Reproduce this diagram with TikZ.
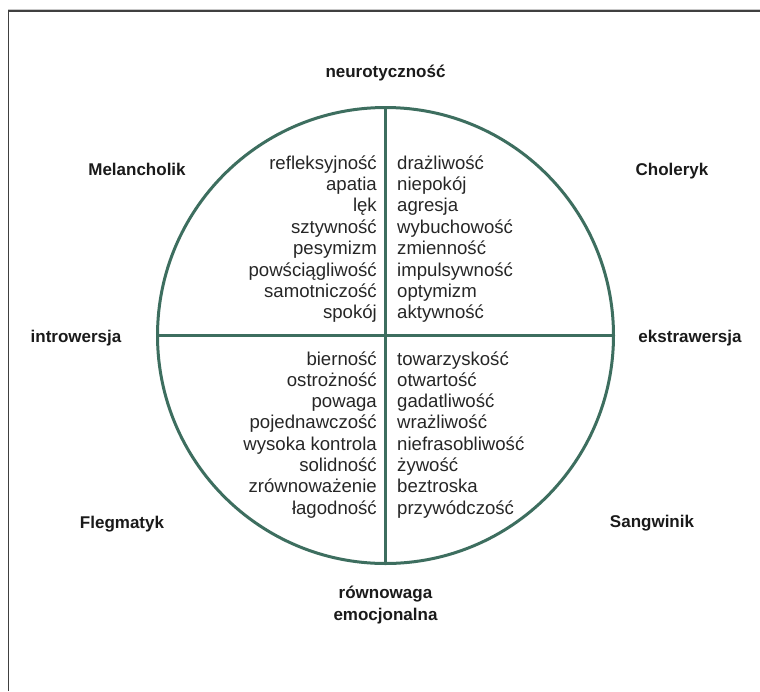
\documentclass[tikz,border=0pt]{standalone}
\usepackage{fontspec}
\setmainfont{Liberation Sans}
\definecolor{circgreen}{HTML}{3D6E5F}
\definecolor{bodytext}{HTML}{262626}
\definecolor{labeltext}{HTML}{1A1A1A}
\begin{document}
\begin{tikzpicture}[x=1pt,y=-1pt,
  word/.style={inner sep=0pt,font=\fontsize{18.6}{21}\selectfont,text=bodytext},
  wl/.style={word,anchor=base east},
  wr/.style={word,anchor=base west},
  lbl/.style={inner sep=0pt,font=\fontsize{17}{21.5}\selectfont\bfseries,text=labeltext,anchor=base,align=center},
  axis/.style={draw=circgreen,line width=3pt}]
\useasboundingbox (0,0) rectangle (760,691);
% frame
\draw[color=black!22,line width=1pt] (8,9.3) -- (760,9.3);
\draw[color=black!75,line width=1.6pt] (8.6,691) -- (8.6,10.9) -- (760,10.9);
% circle
\node[circle,draw=circgreen,line width=3pt,minimum size=456pt,inner sep=0pt] (c) at (385.5,335.5) {};
\draw[axis] (c.north) -- (c.south);
\draw[axis] (c.west) -- (c.east);
% top-left
\foreach \t [count=\i] in {refleksyjność,apatia,lęk,sztywność,pesymizm,powściągliwość,samotniczość,spokój}
  \node[wl] (tl\i) at (377,{169+(\i-1)*21.4}) {\t};
% top-right
\foreach \t [count=\i] in {drażliwość,niepokój,agresja,wybuchowość,zmienność,impulsywność,optymizm,aktywność}
  \node[wr] (tr\i) at (397,{169+(\i-1)*21.4}) {\t};
% bottom-left
\foreach \t [count=\i] in {bierność,ostrożność,powaga,pojednawczość,wysoka kontrola,solidność,zrównoważenie,łagodność}
  \node[wl] (bl\i) at (377,{365+(\i-1)*21.3}) {\t};
% bottom-right
\foreach \t [count=\i] in {towarzyskość,otwartość,gadatliwość,wrażliwość,niefrasobliwość,żywość,beztroska,przywódczość}
  \node[wr] (br\i) at (397,{365+(\i-1)*21.3}) {\t};
% labels
\node[lbl] (neu) at (385.5,77) {neurotyczność};
\node[lbl] (mel) at (137,175) {Melancholik};
\node[lbl] (cho) at (672,175) {Choleryk};
\node[lbl] (intro) at (76,342) {introwersja};
\node[lbl] (ekstra) at (690,342) {ekstrawersja};
\node[lbl] (fleg) at (122,528) {Flegmatyk};
\node[lbl] (sang) at (652,527) {Sangwinik};
\node[lbl] (row) at (385.5,620) {równowaga\\emocjonalna};
\end{tikzpicture}
\end{document}
